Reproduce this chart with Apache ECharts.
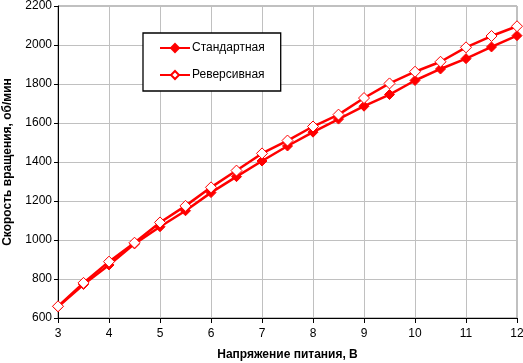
<!DOCTYPE html>
<html><head><meta charset="utf-8">
<script src="https://cdn.jsdelivr.net/npm/echarts@6/dist/echarts.min.js"></script>
<style>html,body{margin:0;padding:0;background:#fff}#c{width:523px;height:363px}</style>
</head><body><div id="c"></div>
<script>
const voltage = [3,3.5,4,4.5,5,5.5,6,6.5,7,7.5,8,8.5,9,9.5,10,10.5,11,11.5,12];
const standard = [658,772,872,980,1068,1150,1243,1325,1405,1482,1553,1620,1686,1746,1818,1877,1930,1990,2048];
const reverse  = [660,780,889,986,1090,1175,1270,1356,1444,1510,1582,1643,1728,1803,1863,1914,1988,2046,2096];
const seriesNames = ['Стандартная','Реверсивная'];
const xTitle = 'Напряжение питания, В';
const yTitle = 'Скорость вращения, об/мин';

const chart = echarts.init(document.getElementById('c'));
const font = 'Liberation Sans, Arial, sans-serif';
function pairs(v){ return voltage.map((x,i)=>[x,v[i]]); }
chart.setOption({
  animation:false,
  textStyle:{fontFamily:font},
  grid:{left:58,right:6,top:6,bottom:45,containLabel:false,outerBoundsMode:'none',show:true,borderColor:'#808080',borderWidth:1},
  legend:{
    orient:'vertical', left:143, top:33,
    padding:[9,16,10,16], itemGap:15, itemWidth:30, itemHeight:10,
    backgroundColor:'#fff', borderColor:'#000', borderWidth:1.3,
    textStyle:{fontFamily:font,fontSize:12,color:'#000',padding:[0,0,0,-3]},
    data:seriesNames
  },
  xAxis:{type:'value',min:3,max:12,interval:1,
    name:xTitle,nameLocation:'middle',nameGap:31,
    nameTextStyle:{fontFamily:font,fontSize:12,fontWeight:'bold',color:'#000'},
    axisLine:{lineStyle:{color:'#000',width:1}},
    axisTick:{show:true,length:5,lineStyle:{color:'#000'}},
    axisLabel:{color:'#000',fontSize:12,fontFamily:font,margin:10,formatter:v=>String(v)},
    splitLine:{show:true,lineStyle:{color:'#c0c0c0',width:1}}},
  yAxis:{type:'value',min:600,max:2200,interval:200,
    name:yTitle,nameLocation:'middle',nameGap:44,nameRotate:90,
    nameTextStyle:{fontFamily:font,fontSize:12,fontWeight:'bold',color:'#000'},
    axisLine:{show:true,lineStyle:{color:'#000',width:1}},
    axisTick:{show:true,length:4,lineStyle:{color:'#000'}},
    axisLabel:{color:'#000',fontSize:12,fontFamily:font,margin:6,formatter:v=>String(v)},
    splitLine:{show:true,lineStyle:{color:'#c0c0c0',width:1}}},
  series:[
    {name:seriesNames[0],type:'line',data:pairs(standard),symbol:'diamond',symbolSize:10,
     lineStyle:{color:'#ff0000',width:2.5},itemStyle:{color:'#ff0000',borderColor:'#ff0000',borderWidth:1},z:3},
    {name:seriesNames[1],type:'line',data:pairs(reverse),symbol:'diamond',symbolSize:11,
     lineStyle:{color:'#ff0000',width:2.5},itemStyle:{color:'#ffffff',borderColor:'#ff0000',borderWidth:1},z:4}
  ]
});
</script></body></html>
